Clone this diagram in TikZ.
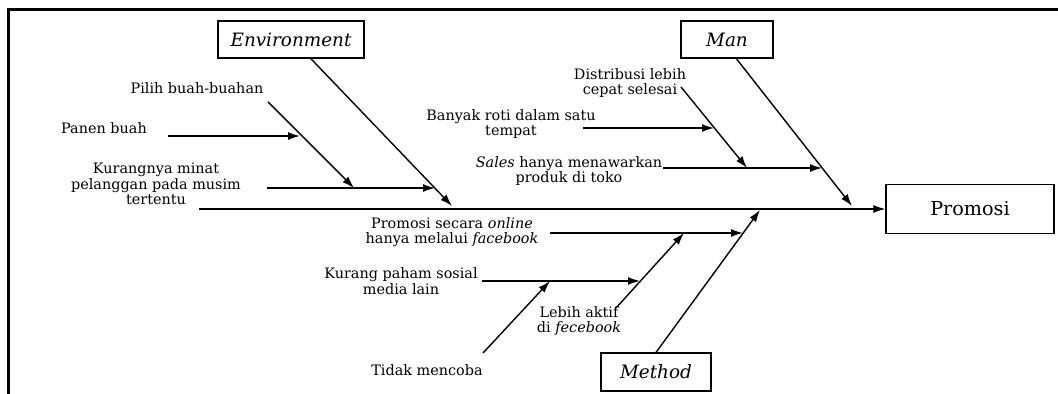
\documentclass[tikz,border=0pt]{standalone}
\usepackage{fontspec}
\setmainfont{DejaVu Serif}
\usepackage{tikz}
\usetikzlibrary{arrows,arrows.meta,shapes,positioning}

\begin{document}
\begin{tikzpicture}[x=0.5pt,y=0.5pt,
    cause/.style={align=center,font=\fontsize{7.2}{7.8}\selectfont},
    catbox/.style={draw=black,line width=0.6pt,font=\fontsize{9.2}{10}\selectfont\itshape,minimum height=18.5pt},
    bone/.style={black,line width=0.7pt,-{Latex[length=6pt,width=4pt]}}]
                    \tikzstyle{every node}+=[inner sep=0pt]
                    \useasboundingbox (0,0) rectangle (1058,-394);
                    % frame
                    \draw [black, line width=1.5pt] (8,-394) -- (8,-10) -- (1058,-10);
                    % effect and categories
                    \node [catbox, font=\fontsize{9.6}{10}\selectfont, minimum width=84pt, minimum height=24.5pt] (prom) at (970,-209) {Promosi};
                    \node [catbox, minimum width=73pt] (env) at (291,-39.5) {Environment};
                    \node [catbox, minimum width=46pt] (man) at (727,-39.5) {Man};
                    \node [catbox, minimum width=55pt, minimum height=19pt] (meth) at (656,-372) {Method};
                    % spine
                    \coordinate (spine) at (199,-209);
                    \draw [bone] (spine) -- (prom.west);
                    % main bones
                    \coordinate (envTip) at (452,-206);
                    \coordinate (manTip) at (852,-206);
                    \coordinate (methTip) at (760,-210);
                    \draw [bone] (env.-44) -- (envTip);
                    \draw [bone] (man.-64) -- (manTip);
                    \draw [bone] (meth.north) -- (methTip);
                    % environment causes
                    \node [cause] (pilih) at (197,-88) {Pilih buah-buahan};
                    \node [cause] (panen) at (104,-128) {Panen buah};
                    \node [cause] (kurang) at (156,-184) {Kurangnya minat\\pelanggan pada musim\\tertentu};
                    \coordinate (pilihS) at (268,-102);
                    \coordinate (pilihT) at (354,-188);
                    \coordinate (panenS) at (168,-136);
                    \coordinate (panenT) at (300,-136);
                    \coordinate (kurangS) at (267,-188);
                    \coordinate (kurangT) at (435,-188);
                    \draw [bone] (kurangS) -- (kurangT);
                    \draw [bone] (pilihS) -- (pilihT);
                    \draw [bone] (panenS) -- (panenT);
                    % man causes
                    \node [cause] (distrib) at (630,-83) {Distribusi lebih\\cepat selesai};
                    \node [cause] (banyak) at (511,-124) {Banyak roti dalam satu\\tempat};
                    \node [cause] (sales) at (569,-171) {\textit{Sales} hanya menawarkan\\produk di toko};
                    \coordinate (distribS) at (681,-87);
                    \coordinate (distribT) at (747,-168);
                    \coordinate (banyakS) at (583,-128);
                    \coordinate (banyakT) at (714,-128);
                    \coordinate (salesS) at (663,-168);
                    \coordinate (salesT) at (822,-168);
                    \draw [bone] (salesS) -- (salesT);
                    \draw [bone] (distribS) -- (distribT);
                    \draw [bone] (banyakS) -- (banyakT);
                    % method causes
                    \node [cause] (online) at (452,-232) {Promosi secara \textit{online}\\hanya melalui \textit{facebook}};
                    \node [cause] (paham) at (401,-281) {Kurang paham sosial\\media lain};
                    \node [cause] (lebih) at (579,-321) {Lebih aktif\\di \textit{fecebook}};
                    \node [cause] (tidak) at (427,-370) {Tidak mencoba};
                    \coordinate (onlineS) at (550,-233);
                    \coordinate (onlineT) at (743,-233);
                    \coordinate (lebihS) at (616,-308);
                    \coordinate (lebihT) at (684,-233);
                    \coordinate (pahamS) at (482,-281);
                    \coordinate (pahamT) at (640,-281);
                    \coordinate (tidakS) at (483,-353);
                    \coordinate (tidakT) at (550,-281);
                    \draw [bone] (onlineS) -- (onlineT);
                    \draw [bone] (lebihS) -- (lebihT);
                    \draw [bone] (pahamS) -- (pahamT);
                    \draw [bone] (tidakS) -- (tidakT);
\end{tikzpicture}
\end{document}
